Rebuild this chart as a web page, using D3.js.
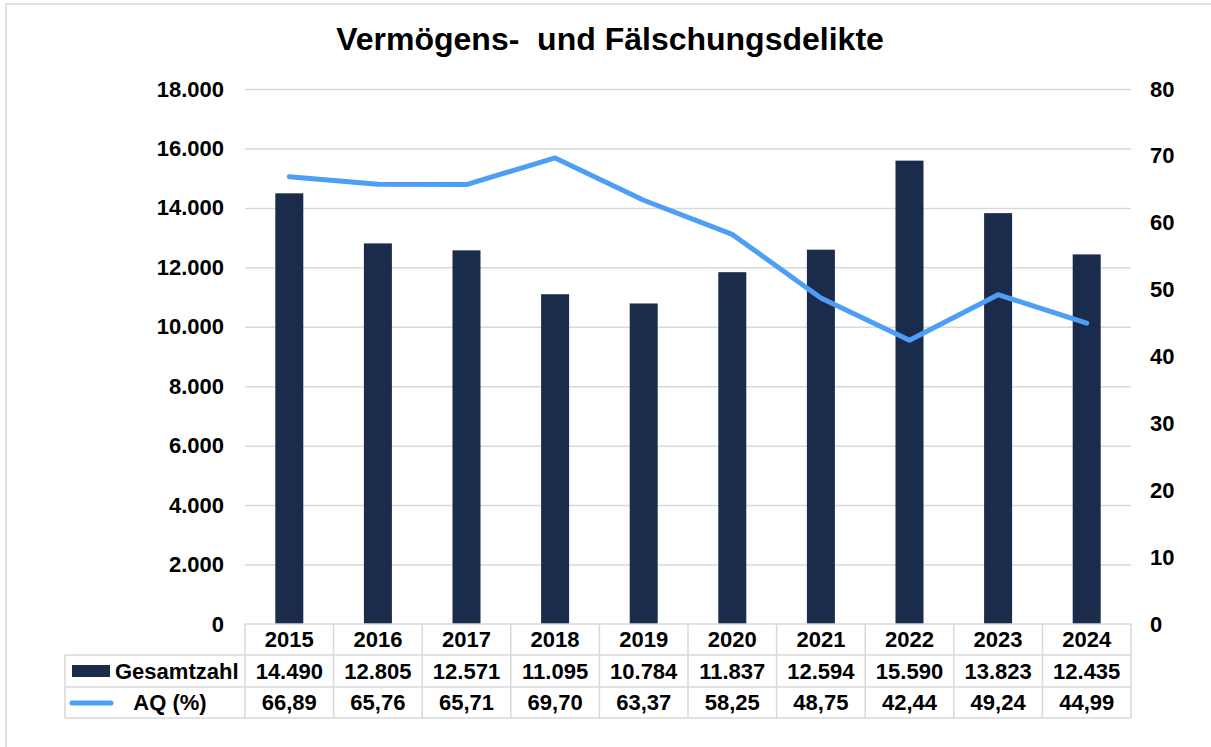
<!DOCTYPE html>
<html>
<head>
<meta charset="utf-8">
<script src="https://cdn.jsdelivr.net/npm/d3@7"></script>
<style>
  body { margin: 0; background: #fff; }
  svg { display: block; font-family: "Liberation Sans", Arial, sans-serif; font-weight: bold; }
</style>
</head>
<body>
<svg width="1211" height="747"></svg>
<script>
var years = ['2015', '2016', '2017', '2018', '2019', '2020', '2021', '2022', '2023', '2024'];
var totals = [14490, 12805, 12571, 11095, 10784, 11837, 12594, 15590, 13823, 12435];
var aq = [66.89, 65.76, 65.71, 69.70, 63.37, 58.25, 48.75, 42.44, 49.24, 44.99];
var leftTicks = [0, 2000, 4000, 6000, 8000, 10000, 12000, 14000, 16000, 18000];
var rightTicks = [0, 10, 20, 30, 40, 50, 60, 70, 80];

var BAR_COLOR = '#1b2b4b';
var LINE_COLOR = '#4d9ef5';
var GRID_COLOR = '#d9d9d9';
var FONT_SIZE = 22;

var de = d3.formatLocale({ decimal: ',', thousands: '.', grouping: [3], currency: ['', ' €'] });
var fmtInt = de.format(',d');
var fmtPct = de.format('.2f');

var svg = d3.select('svg');

var plot = { left: 245, right: 1131, top: 89, bottom: 624 };

var x = d3.scaleBand().domain(years).range([plot.left, plot.right]);
var yL = d3.scaleLinear().domain([0, 18000]).range([plot.bottom, plot.top]);
var yR = d3.scaleLinear().domain([0, 80]).range([plot.bottom, plot.top]);

// outer frame (only top and left visible in the original)
svg.append('path')
  .attr('d', 'M6,760 L6,4 L1230,4')
  .style('fill', 'none')
  .style('stroke', '#d6d6d6')
  .style('stroke-width', 1.5);

svg.append('text')
  .attr('x', 610)
  .attr('y', 50)
  .attr('text-anchor', 'middle')
  .style('font-size', '32px')
  .style('white-space', 'pre')
  .text('Vermögens-  und Fälschungsdelikte');

// gridlines + left axis
var left = svg.append('g')
  .attr('transform', 'translate(' + plot.left + ',0)')
  .call(d3.axisLeft(yL).tickValues(leftTicks).tickSize(-(plot.right - plot.left)).tickPadding(21).tickFormat(fmtInt));
left.select('.domain').remove();
left.selectAll('.tick line')
  .style('stroke', GRID_COLOR)
  .style('stroke-width', 1.5)
  .filter(function (d) { return d === 0; }).remove();
left.selectAll('.tick text')
  .style('font-size', FONT_SIZE + 'px')
  .style('font-family', '"Liberation Sans", Arial, sans-serif')
  .style('fill', '#000');

var right = svg.append('g')
  .attr('transform', 'translate(' + plot.right + ',0)')
  .call(d3.axisRight(yR).tickValues(rightTicks).tickSize(0).tickPadding(19));
right.select('.domain').remove();
right.selectAll('.tick text')
  .style('font-size', FONT_SIZE + 'px')
  .style('font-family', '"Liberation Sans", Arial, sans-serif')
  .style('fill', '#000');

// bars
var barW = x.bandwidth() * 0.316;
svg.append('g').selectAll('rect')
  .data(totals)
  .enter().append('rect')
  .attr('x', function (d, i) { return x(years[i]) + (x.bandwidth() - barW) / 2; })
  .attr('y', function (d) { return yL(d); })
  .attr('width', barW)
  .attr('height', function (d) { return yL(0) - yL(d); })
  .style('fill', BAR_COLOR);

// line
var line = d3.line()
  .x(function (d, i) { return x(years[i]) + x.bandwidth() / 2; })
  .y(function (d) { return yR(d); });
svg.append('path')
  .datum(aq)
  .attr('d', line)
  .style('fill', 'none')
  .style('stroke', LINE_COLOR)
  .style('stroke-width', 5)
  .style('stroke-linejoin', 'round')
  .style('stroke-linecap', 'round');

// data table
var rowY = [plot.bottom, 655, 687, 718];
var labelLeft = 65;
var table = svg.append('g')
  .style('stroke', GRID_COLOR)
  .style('stroke-width', 1.5)
  .style('fill', 'none');

table.append('line').attr('x1', plot.left).attr('x2', plot.right).attr('y1', rowY[0]).attr('y2', rowY[0]);
[1, 2, 3].forEach(function (r) {
  table.append('line').attr('x1', labelLeft).attr('x2', plot.right).attr('y1', rowY[r]).attr('y2', rowY[r]);
});
var edges = years.map(function (y) { return x(y); }).concat([plot.right]);
edges.forEach(function (ex) {
  table.append('line').attr('x1', ex).attr('x2', ex).attr('y1', rowY[0]).attr('y2', rowY[3]);
});
table.append('line').attr('x1', labelLeft).attr('x2', labelLeft).attr('y1', rowY[1]).attr('y2', rowY[3]);

function rowText(r, values, fmt) {
  svg.append('g').selectAll('text')
    .data(values)
    .enter().append('text')
    .attr('x', function (d, i) { return x(years[i]) + x.bandwidth() / 2; })
    .attr('y', (rowY[r] + rowY[r + 1]) / 2)
    .attr('dy', '0.36em')
    .attr('text-anchor', 'middle')
    .style('font-size', FONT_SIZE + 'px')
    .text(fmt);
}
rowText(0, years, function (d) { return d; });
rowText(1, totals, fmtInt);
rowText(2, aq, fmtPct);

// legend keys in table
svg.append('rect')
  .attr('x', 72).attr('y', 665).attr('width', 38).attr('height', 12)
  .style('fill', BAR_COLOR);
svg.append('text')
  .attr('x', 115).attr('y', (rowY[1] + rowY[2]) / 2).attr('dy', '0.36em')
  .style('font-size', FONT_SIZE + 'px')
  .text('Gesamtzahl');
svg.append('line')
  .attr('x1', 72).attr('x2', 111).attr('y1', 703).attr('y2', 703)
  .style('stroke', LINE_COLOR).style('stroke-width', 5).style('stroke-linecap', 'round');
svg.append('text')
  .attr('x', 170).attr('y', (rowY[2] + rowY[3]) / 2).attr('dy', '0.36em')
  .attr('text-anchor', 'middle')
  .style('font-size', FONT_SIZE + 'px')
  .text('AQ (%)');
</script>
</body>
</html>
